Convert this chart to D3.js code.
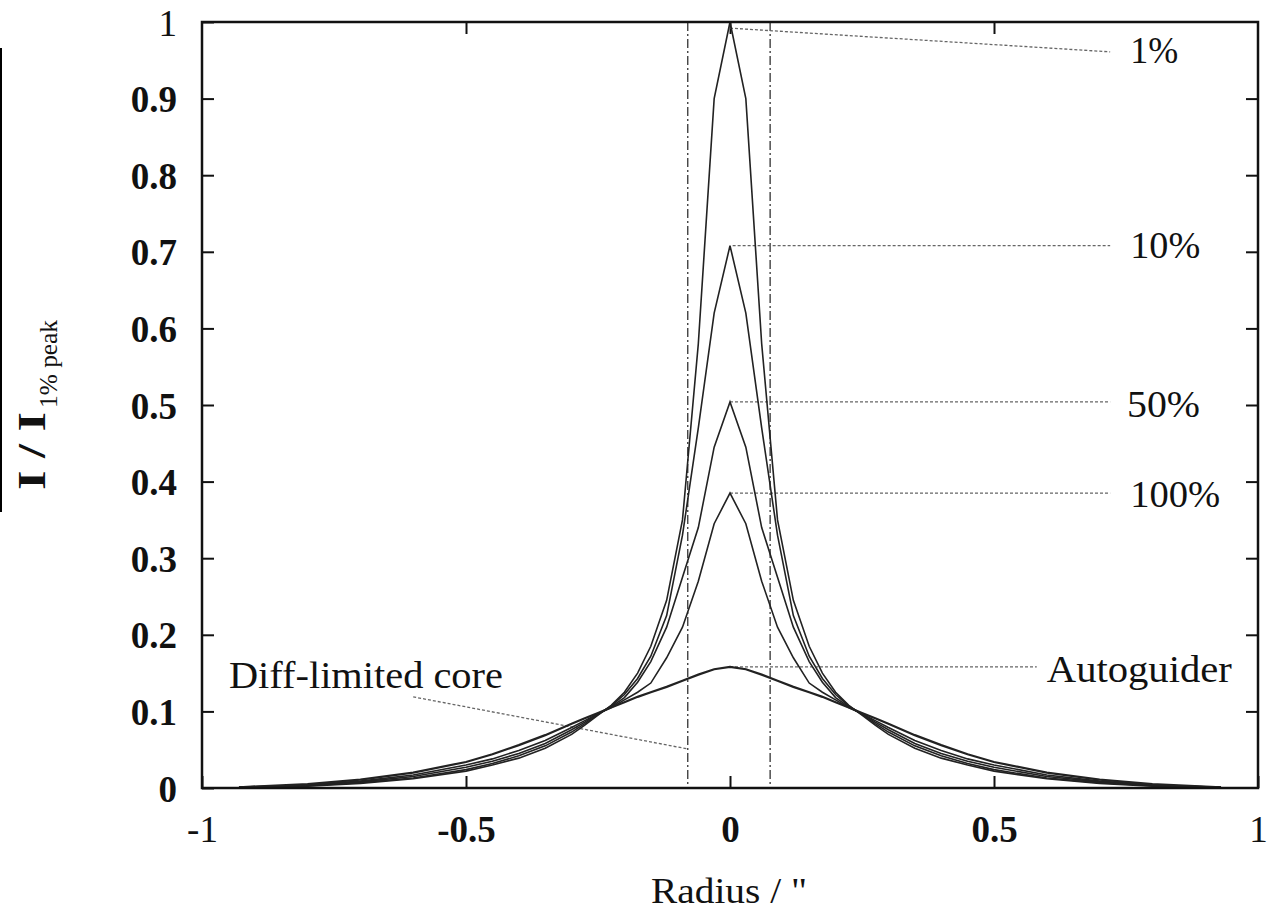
<!DOCTYPE html>
<html>
<head>
<meta charset="utf-8">
<script src="https://cdn.jsdelivr.net/npm/d3@7"></script>
<style>
  body { margin: 0; background: #fff; }
  svg { display: block; font-family: "Liberation Serif", "DejaVu Serif", serif; }
</style>
</head>
<body>
<div id="chart-area"></div>
<script>
// radius samples (arcsec) and normalised intensity of each profile
var radius = [-0.93,-0.8,-0.7,-0.6,-0.5,-0.45,-0.4,-0.35,-0.3,-0.275,-0.25,-0.225,-0.2,-0.175,-0.15,-0.12,-0.09,-0.06,-0.03,0,
              0.03,0.06,0.09,0.12,0.15,0.175,0.2,0.225,0.25,0.275,0.3,0.35,0.4,0.45,0.5,0.6,0.7,0.8,0.93];

var prof1 = [0.0005,0.0025,0.006,0.012,0.022,0.03,0.039,0.052,0.07,0.082,0.095,0.108,0.125,0.15,0.185,0.245,0.35,0.58,0.9,1.0,
             0.9,0.58,0.35,0.245,0.185,0.15,0.125,0.108,0.095,0.082,0.07,0.052,0.039,0.03,0.022,0.012,0.006,0.0025,0.0005];
var prof10 = [0.0008,0.003,0.007,0.013,0.024,0.032,0.042,0.055,0.073,0.084,0.096,0.107,0.122,0.143,0.172,0.225,0.33,0.47,0.62,0.708,
              0.62,0.47,0.33,0.225,0.172,0.143,0.122,0.107,0.096,0.084,0.073,0.055,0.042,0.032,0.024,0.013,0.007,0.003,0.0008];
var prof50 = [0.001,0.0035,0.008,0.015,0.027,0.035,0.045,0.058,0.076,0.086,0.097,0.106,0.118,0.138,0.165,0.21,0.275,0.34,0.445,0.504,
              0.445,0.34,0.275,0.21,0.165,0.138,0.118,0.106,0.097,0.086,0.076,0.058,0.045,0.035,0.027,0.015,0.008,0.0035,0.001];
var prof100 = [0.001,0.004,0.009,0.017,0.03,0.038,0.049,0.062,0.079,0.088,0.097,0.105,0.115,0.125,0.137,0.17,0.21,0.27,0.345,0.385,
               0.345,0.27,0.21,0.17,0.137,0.125,0.115,0.105,0.097,0.088,0.079,0.062,0.049,0.038,0.03,0.017,0.009,0.004,0.001];
var profAuto = [0.001,0.005,0.011,0.02,0.034,0.044,0.056,0.069,0.084,0.091,0.098,0.105,0.112,0.119,0.125,0.132,0.14,0.148,0.155,0.158,
                0.155,0.148,0.14,0.132,0.125,0.119,0.112,0.105,0.098,0.091,0.084,0.069,0.056,0.044,0.034,0.02,0.011,0.005,0.001];

var xTicks = [-1, -0.5, 0, 0.5, 1];
var xTickLabels = ["-1", "-0.5", "0", "0.5", "1"];
var yTicks = [0, 0.1, 0.2, 0.3, 0.4, 0.5, 0.6, 0.7, 0.8, 0.9, 1];
var yTickLabels = ["0", "0.1", "0.2", "0.3", "0.4", "0.5", "0.6", "0.7", "0.8", "0.9", "1"];

// diffraction-limited core boundaries
var coreEdges = [-0.08, 0.076];

// annotation labels: leader start, leader end, text anchor (data units)
var labelNames = ["1%", "10%", "50%", "100%", "Autoguider", "Diff-limited core"];
var leaderFrom = [[0, 0.992], [0.005, 0.708], [0, 0.504], [0, 0.385], [0, 0.158], [-0.60, 0.119]];
var leaderTo = [[0.72, 0.961], [0.72, 0.708], [0.72, 0.504], [0.72, 0.385], [0.581, 0.158], [-0.08, 0.051]];
var labelAt = [[0.758, 0.946], [0.758, 0.692], [0.752, 0.484], [0.758, 0.367], [0.600, 0.138], [-0.949, 0.131]];
var labelWidth = [48, 70, 73, 90, 185, 274];

var svg = d3.select("#chart-area").append("svg")
      .attr("width", 1271)
      .attr("height", 913);

var x = d3.scaleLinear().domain([-1, 1]).range([202, 1258]);
var y = d3.scaleLinear().domain([0, 1]).range([788, 22]);

// stray fraction bar at the left edge of the original figure
svg.append("line")
    .attr("x1", 1).attr("x2", 1)
    .attr("y1", 48).attr("y2", 512)
    .attr("stroke", "#000").attr("stroke-width", 2);

// axes, ticks pointing inwards
var bottom = svg.append("g")
    .attr("transform", "translate(0," + y(0) + ")")
    .call(d3.axisBottom(x).tickValues(xTicks).tickSizeInner(-12).tickSizeOuter(0)
        .tickFormat(function(d, i) { return xTickLabels[i]; }));
bottom.selectAll("text")
    .attr("y", 54).attr("dy", 0)
    .attr("font-size", 37)
    .attr("font-weight", function(d, i) { return xTickLabels[i].indexOf("0") >= 0 ? "bold" : "normal"; });

var left = svg.append("g")
    .attr("transform", "translate(" + x(-1) + ",0)")
    .call(d3.axisLeft(y).tickValues(yTicks).tickSizeInner(-12).tickSizeOuter(0)
        .tickFormat(function(d, i) { return yTickLabels[i]; }));
left.selectAll("text")
    .attr("x", -25).attr("dy", 13)
    .attr("font-size", 37)
    .attr("font-weight", function(d, i) { return yTickLabels[i].indexOf("0") >= 0 ? "bold" : "normal"; });

svg.append("g")
    .attr("transform", "translate(0," + y(1) + ")")
    .call(d3.axisTop(x).tickValues([-0.5, 0, 0.5]).tickSizeInner(-12).tickSizeOuter(0).tickFormat(""));
svg.append("g")
    .attr("transform", "translate(" + x(1) + ",0)")
    .call(d3.axisRight(y).tickValues(yTicks.slice(1, 10)).tickSizeInner(-12).tickSizeOuter(0).tickFormat(""));

svg.selectAll(".domain").remove();
svg.selectAll(".tick line").attr("stroke", "#111").attr("stroke-width", 2);
svg.selectAll(".tick text").attr("fill", "#111").attr("font-family", "Liberation Serif, serif");

// vertical dash-dot lines
svg.selectAll(".core")
    .data(coreEdges)
    .enter().append("line")
    .attr("class", "core")
    .attr("x1", function(d) { return x(d); })
    .attr("x2", function(d) { return x(d); })
    .attr("y1", y(1)).attr("y2", y(0))
    .attr("stroke", "#333")
    .attr("stroke-width", 1.3)
    .attr("stroke-dasharray", "9,3,2,3");

// leader lines
svg.selectAll(".leader")
    .data(labelNames)
    .enter().append("line")
    .attr("class", "leader")
    .attr("x1", function(d, i) { return x(leaderFrom[i][0]); })
    .attr("y1", function(d, i) { return y(leaderFrom[i][1]); })
    .attr("x2", function(d, i) { return x(leaderTo[i][0]); })
    .attr("y2", function(d, i) { return y(leaderTo[i][1]); })
    .attr("stroke", "#666")
    .attr("stroke-width", 1.3)
    .attr("stroke-dasharray", "3,2");

// profiles
var profiles = [prof1, prof10, prof50, prof100, profAuto];
var line = d3.line()
    .x(function(d, i) { return x(radius[i]); })
    .y(function(d) { return y(d); });

svg.selectAll(".profile")
    .data(profiles)
    .enter().append("path")
    .attr("class", "profile")
    .attr("d", line)
    .attr("fill", "none")
    .attr("stroke", "#222")
    .attr("stroke-width", function(d, i) { return i == 4 ? 2.2 : 1.6; });

// frame
svg.append("rect")
    .attr("x", x(-1)).attr("y", y(1))
    .attr("width", x(1) - x(-1)).attr("height", y(0) - y(1))
    .attr("fill", "none")
    .attr("stroke", "#111")
    .attr("stroke-width", 2.5);

// annotation texts
svg.selectAll(".label")
    .data(labelNames)
    .enter().append("text")
    .attr("class", "label")
    .attr("x", function(d, i) { return x(labelAt[i][0]); })
    .attr("y", function(d, i) { return y(labelAt[i][1]); })
    .attr("font-size", 37)
    .attr("fill", "#111")
    .attr("textLength", function(d, i) { return labelWidth[i]; })
    .attr("lengthAdjust", "spacingAndGlyphs")
    .text(function(d) { return d; });

// axis titles
svg.append("text")
    .attr("x", 729).attr("y", 903)
    .attr("text-anchor", "middle")
    .attr("font-size", 36)
    .attr("fill", "#111")
    .attr("textLength", 156)
    .attr("lengthAdjust", "spacingAndGlyphs")
    .text("Radius / \"");

svg.append("text")
    .attr("transform", "translate(45,490) rotate(-90)")
    .attr("font-size", 40)
    .attr("font-weight", "bold")
    .attr("fill", "#111")
    .attr("textLength", 78)
    .attr("lengthAdjust", "spacingAndGlyphs")
    .text("I / I");

svg.append("text")
    .attr("transform", "translate(57,408) rotate(-90)")
    .attr("font-size", 26)
    .attr("fill", "#111")
    .attr("textLength", 88)
    .attr("lengthAdjust", "spacingAndGlyphs")
    .text("1% peak");
</script>
</body>
</html>
